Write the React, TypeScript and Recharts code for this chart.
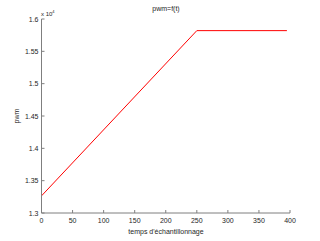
import React from "react";
import { LineChart, Line, XAxis, YAxis } from "recharts";

const samples = [0, 250, 395];
const pwmValues = [13265, 15820, 15820];
const xTicks = [0, 50, 100, 150, 200, 250, 300, 350, 400];
const yTicks = [13000, 13500, 14000, 14500, 15000, 15500, 16000];
const title = "pwm=f(t)";
const xLabel = "temps d'échantillonnage";
const yLabel = "pwm";

const data = samples.map((t, i) => ({ t, pwm: pwmValues[i] }));

const FONT = "'Liberation Sans', Arial, sans-serif";
const AXIS = "#7f7f7f";
const TXT = "#262626";

const XTick = (props: any) => {
  const { x, y, payload } = props;
  return (
    <g>
      <line x1={x} x2={x} y1={213} y2={210} stroke={AXIS} strokeWidth={1} />
      <text x={x} y={223} textAnchor="middle" fontSize={7} fontFamily={FONT} fill={TXT}>
        {payload.value}
      </text>
    </g>
  );
};

const YTick = (props: any) => {
  const { y, payload } = props;
  return (
    <g>
      <line x1={41.5} x2={44.5} y1={y} y2={y} stroke={AXIS} strokeWidth={1} />
      <text x={38.5} y={y + 2.5} textAnchor="end" fontSize={7} fontFamily={FONT} fill={TXT}>
        {String(payload.value / 10000)}
      </text>
    </g>
  );
};

export default function App() {
  return (
    <div style={{ position: "fixed", left: 0, top: 0, background: "#fff" }}>
      <LineChart
        width={320}
        height={241}
        data={data}
        margin={{ top: 19, right: 30, bottom: 8, left: 11.5 }}
      >
        <XAxis
          dataKey="t"
          type="number"
          domain={[0, 400]}
          ticks={xTicks}
          height={20}
          axisLine={{ stroke: AXIS }}
          tickLine={false}
          tick={<XTick />}
          interval={0}
        />
        <YAxis
          type="number"
          domain={[13000, 16000]}
          ticks={yTicks}
          width={30}
          axisLine={{ stroke: AXIS }}
          tickLine={false}
          tick={<YTick />}
          interval={0}
        />
        <Line
          dataKey="pwm"
          stroke="#ff0000"
          strokeWidth={1}
          dot={false}
          isAnimationActive={false}
          type="linear"
        />
        <text x={166} y={11} textAnchor="middle" fontSize={7} fontFamily={FONT} fill={TXT}>
          {title}
        </text>
        <text x={166} y={234} textAnchor="middle" fontSize={7} fontFamily={FONT} fill={TXT}>
          {xLabel}
        </text>
        <text
          x={19}
          y={116}
          textAnchor="middle"
          fontSize={7}
          fontFamily={FONT}
          fill={TXT}
          transform="rotate(-90 19 116)"
        >
          {yLabel}
        </text>
        <text x={41} y={16} fontSize={6} fontFamily={FONT} fill={TXT}>
          x 10
          <tspan dy={-3} fontSize={4}>4</tspan>
        </text>
      </LineChart>
    </div>
  );
}
